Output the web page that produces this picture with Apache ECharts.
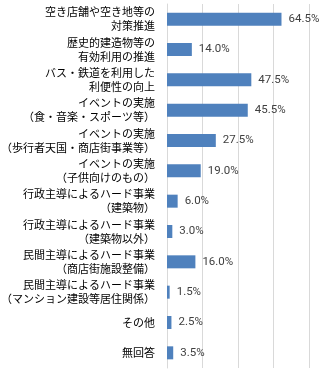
<!DOCTYPE html>
<html><head><meta charset="utf-8">
<script src="https://cdn.jsdelivr.net/npm/echarts@6/dist/echarts.min.js"></script>
<style>html,body{margin:0;padding:0;background:#fff}#c{width:324px;height:374px}</style>
</head><body><div id="c"></div>
<script>
const categories = [
  '空き店舗や空き地等の\n対策推進',
  '歴史的建造物等の\n有効利用の推進',
  'バス・鉄道を利用した\n利便性の向上',
  'イベントの実施\n（食・音楽・スポーツ等）',
  'イベントの実施\n（歩行者天国・商店街事業等）',
  'イベントの実施\n（子供向けのもの）',
  '行政主導によるハード事業\n（建築物）',
  '行政主導によるハード事業\n（建築物以外）',
  '民間主導によるハード事業\n（商店街施設整備）',
  '民間主導によるハード事業\n（マンション建設等居住関係）',
  'その他',
  '無回答'
];
const values = [64.5, 14.0, 47.5, 45.5, 27.5, 19.0, 6.0, 3.0, 16.0, 1.5, 2.5, 3.5];
const xTicks = [0, 20, 40, 60, 80];

const FONT_SIZE = 11;
const FONT_FAMILY = 'Noto Sans CJK JP';
const ctx = document.createElement('canvas').getContext('2d');
ctx.font = FONT_SIZE + 'px "' + FONT_FAMILY + '"';

// Build rich styles that centre each line inside its label block
const rich = {};
const labelMap = {};
categories.forEach((c, i) => {
  const lines = c.split('\n');
  const widths = lines.map(l => ctx.measureText(l).width);
  const w = Math.max.apply(null, widths);
  labelMap[c] = lines.map((l, j) => {
    const key = 'r' + i + '_' + j;
    rich[key] = {
      fontFamily: FONT_FAMILY, fontSize: FONT_SIZE, lineHeight: 14, color: '#000',
      padding: [0, 0, 0, (w - widths[j]) / 2]
    };
    return '{' + key + '|' + l + '}';
  }).join('\n');
});

const chart = echarts.init(document.getElementById('c'));
chart.setOption({
  animation: false,
  grid: {left: 167, right: 15, top: 4, bottom: 6, containLabel: false, outerBoundsMode: 'none'},
  xAxis: {
    type: 'value', min: xTicks[0], max: xTicks[xTicks.length - 1], interval: 20,
    axisLabel: {show: false}, axisTick: {show: false}, axisLine: {show: false},
    splitLine: {lineStyle: {color: '#d9d9d9', width: 1}}
  },
  yAxis: {
    type: 'category', inverse: true, data: categories,
    axisTick: {show: false},
    axisLine: {lineStyle: {color: '#d9d9d9'}},
    axisLabel: {
      margin: 12, align: 'right',
      fontFamily: FONT_FAMILY, fontSize: FONT_SIZE, color: '#000', lineHeight: 14,
      formatter: v => labelMap[v],
      rich: rich
    }
  },
  series: [{
    type: 'bar', data: values, barWidth: 13,
    itemStyle: {color: '#4f81bd'},
    label: {
      show: true, position: 'right', distance: 7,
      formatter: p => p.value.toFixed(1) + '%',
      fontFamily: 'Liberation Sans Narrow, Roboto, sans-serif', fontSize: 11.5, color: '#404040'
    }
  }]
});
</script></body></html>
